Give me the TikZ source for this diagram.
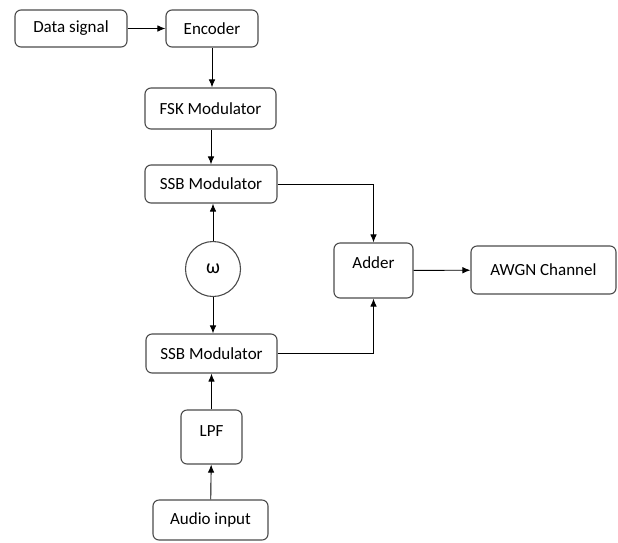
\documentclass[tikz,border=0pt]{standalone}
\usepackage{fontspec}
\setmainfont{Carlito}
\usetikzlibrary{%
  positioning,
  arrows.meta,
  shapes
}
\tikzset{
  block/.style = {draw = black!70, line width = 1.1pt, rounded corners = 6pt,
    fill = white, inner sep = 0},
  raised/.style = {text height = 10pt, text depth = #1},
  flow/.style = {-{Latex[length = 8pt, width = 6.5pt]}, line width = 0.9pt, black}
}

\begin{document}
\begin{tikzpicture}[
      x = 1pt, y = -1pt,
      font = \fontsize{17}{19}\selectfont
      ]
      \useasboundingbox (0,0) rectangle (618,542);
      % data path
      \node (data) [block, minimum width = 112pt, minimum height = 37pt] at (71,28.5) {Data signal};
      \node (enc) [block, minimum width = 92pt, minimum height = 37pt] at (212,28.5) {Encoder};
      \node (fsk) [block, minimum width = 131pt, minimum height = 41pt] at (210.5,108.5) {FSK Modulator};
      \node (ssbtop) [block, minimum width = 132pt, minimum height = 38pt] at (211,184) {SSB Modulator};
      % carrier
      \node (osc) [draw = black!70, line width = 1.1pt, circle, minimum size = 55pt, inner sep = 0,
        font = \fontsize{20}{22}\selectfont] at (213,269) {ω};
      % audio path
      \node (ssbbot) [block, minimum width = 131pt, minimum height = 39pt] at (211.5,353.5) {SSB Modulator};
      \node (lpf) [block, raised = 12pt, minimum width = 61pt, minimum height = 54pt] at (211.5,437) {LPF};
      \node (audio) [block, minimum width = 115pt, minimum height = 40pt] at (210.5,520) {Audio input};
      % output
      \node (adder) [block, raised = 14pt, minimum width = 79pt, minimum height = 55pt] at (373.5,270.5) {Adder};
      \node (awgn) [block, minimum width = 145pt, minimum height = 48pt] at (543.5,270) {AWGN Channel};

      \draw [flow] (data) -- (enc);
      \draw [flow] (enc) -- (enc |- fsk.north);
      \draw [flow] (fsk.south -| ssbtop) -- (ssbtop);
      \draw [flow] (osc) -- (osc |- ssbtop.south);
      \draw [flow] (osc) -- (osc |- ssbbot.north);
      \draw [flow] (lpf) -- (ssbbot);
      \draw [flow] (audio) -- (lpf);
      \draw [flow] (ssbtop.east) -| (adder.north);
      \draw [flow] (ssbbot.east) -| (adder.south);
      \draw [flow] (adder) -- (awgn);
    \end{tikzpicture}
\end{document}
